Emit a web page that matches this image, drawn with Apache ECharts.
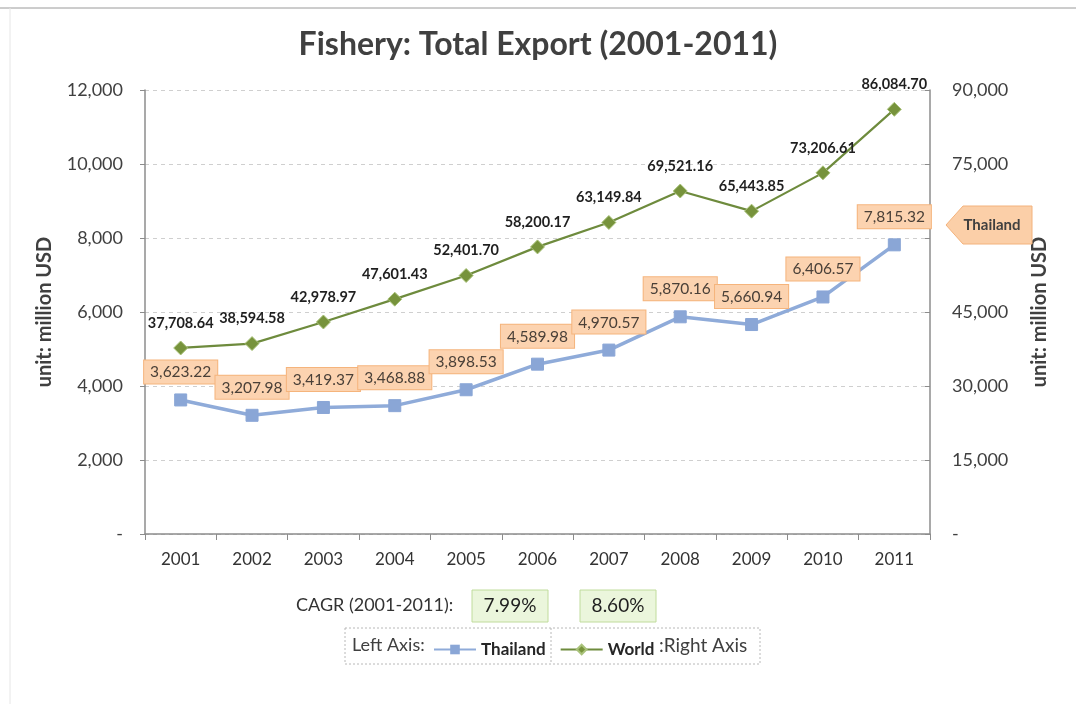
<!DOCTYPE html>
<html><head><meta charset="utf-8">
<script src="https://cdn.jsdelivr.net/npm/echarts@6/dist/echarts.min.js"></script>
<style>html,body{margin:0;padding:0;background:#fff}#c{width:1076px;height:704px}</style>
</head><body><div id="c"></div>
<script>
const years = ['2001','2002','2003','2004','2005','2006','2007','2008','2009','2010','2011'];
const thailand = [3623.22, 3207.98, 3419.37, 3468.88, 3898.53, 4589.98, 4970.57, 5870.16, 5660.94, 6406.57, 7815.32];
const world = [37708.64, 38594.58, 42978.97, 47601.43, 52401.70, 58200.17, 63149.84, 69521.16, 65443.85, 73206.61, 86084.70];
const cagr = ['7.99%', '8.60%'];

const FONT = 'Lato, "Noto Sans", sans-serif';
const fmt = v => v === 0 ? '-' : v.toLocaleString('en-US');
const fmt2 = v => v.toLocaleString('en-US', {minimumFractionDigits: 2, maximumFractionDigits: 2});

const chart = echarts.init(document.getElementById('c'));
chart.setOption({
  animation: false,
  textStyle: {fontFamily: FONT},
  title: {
    text: 'Fishery: Total Export (2001-2011)', left: 'center', top: 24,
    textStyle: {fontFamily: FONT, fontSize: 32, fontWeight: 'bold', color: '#404040'}
  },
  grid: {left: 145, right: 146, top: 90, bottom: 170},
  xAxis: {
    type: 'category', data: years, boundaryGap: true,
    axisLine: {lineStyle: {color: '#8c8c8c', width: 1.5}},
    axisTick: {show: true, length: 6, lineStyle: {color: '#8c8c8c'}},
    axisLabel: {color: '#333', fontSize: 17, margin: 17, fontFamily: FONT}
  },
  yAxis: [{
    type: 'value', min: 0, max: 12000, interval: 2000,
    name: 'unit: million USD', nameLocation: 'middle', nameRotate: 90, nameGap: 90,
    nameTextStyle: {fontSize: 20, fontWeight: 'bold', color: '#404040', fontFamily: FONT},
    axisLine: {show: true, lineStyle: {color: '#8c8c8c', width: 1.5}},
    axisTick: {show: true, length: 5, lineStyle: {color: '#8c8c8c'}},
    axisLabel: {formatter: fmt, color: '#404040', fontSize: 18, margin: 22, fontFamily: FONT},
    splitLine: {lineStyle: {color: '#cfcfcf', type: [4, 4]}}
  }, {
    type: 'value', min: 0, max: 90000, interval: 15000, position: 'right',
    name: 'unit: million USD', nameLocation: 'middle', nameRotate: 90, nameGap: 100,
    nameTextStyle: {fontSize: 20, fontWeight: 'bold', color: '#404040', fontFamily: FONT},
    axisLine: {show: true, lineStyle: {color: '#8c8c8c', width: 1.5}},
    axisTick: {show: true, inside: true, length: 5, lineStyle: {color: '#8c8c8c'}},
    axisLabel: {formatter: v => v === 60000 ? '' : fmt(v), color: '#404040', fontSize: 18, margin: 22, fontFamily: FONT},
    splitLine: {show: false}
  }],
  legend: {
    data: ['Thailand', 'World'], left: 428, top: 636, itemWidth: 42, itemHeight: 12, itemGap: 14,
    textStyle: {fontSize: 17, fontWeight: 'bold', color: '#262626', fontFamily: FONT}
  },
  series: [{
    name: 'Thailand', type: 'line', yAxisIndex: 0, data: thailand, z: 3,
    lineStyle: {color: '#8fabd9', width: 3.5},
    itemStyle: {color: '#8aa6d6', borderColor: '#8aa6d6'},
    symbol: 'rect', symbolSize: 12, showAllSymbol: true,
    label: {
      show: true, position: 'top', distance: 10, formatter: p => fmt2(p.value),
      fontSize: 15.5, color: '#4a4038', fontFamily: FONT,
      backgroundColor: '#fcd3b0', borderColor: '#f5b47c', borderWidth: 1, padding: [4, 6, 3, 6]
    }
  }, {
    name: 'World', type: 'line', yAxisIndex: 1, data: world, z: 4,
    lineStyle: {color: '#6e8b3d', width: 2.2},
    itemStyle: {color: '#77933c', borderColor: '#a9c27a', borderWidth: 1},
    symbol: 'diamond', symbolSize: 14, showAllSymbol: true,
    label: {
      show: true, position: 'top', distance: 10, formatter: p => fmt2(p.value),
      fontSize: 14.5, fontWeight: 'bold', color: '#1f1f1f', fontFamily: FONT
    }
  }],
  graphic: [
    {type: 'line', shape: {x1: 0, y1: 8, x2: 1076, y2: 8}, style: {stroke: '#9a9a9a', lineWidth: 1}},
    {type: 'line', shape: {x1: 10, y1: 8, x2: 10, y2: 704}, style: {stroke: '#e6e6e6', lineWidth: 1}},
    {type: 'polygon', z: 100, shape: {points: [[946, 225], [963, 206], [1032, 206], [1032, 244], [963, 244]]},
     style: {fill: '#fbcfa8', stroke: '#f3b27c', lineWidth: 1}},
    {type: 'text', z: 101, x: 992, y: 225, style: {text: 'Thailand', font: 'bold 15px ' + FONT, fill: '#404040', align: 'center', verticalAlign: 'middle'}},
    {type: 'text', z: 101, left: 296, top: 596, style: {text: 'CAGR (2001-2011):', font: '18px ' + FONT, fill: '#333'}},
    {type: 'rect', z: 100, shape: {x: 472, y: 590, width: 76, height: 32}, style: {fill: '#ebf6dc', stroke: '#c0dc9c', lineWidth: 1}},
    {type: 'text', z: 101, x: 510, y: 606, style: {text: cagr[0], font: '19px ' + FONT, fill: '#1f1f1f', align: 'center', verticalAlign: 'middle'}},
    {type: 'rect', z: 100, shape: {x: 580, y: 590, width: 76, height: 32}, style: {fill: '#ebf6dc', stroke: '#c0dc9c', lineWidth: 1}},
    {type: 'text', z: 101, x: 618, y: 606, style: {text: cagr[1], font: '19px ' + FONT, fill: '#1f1f1f', align: 'center', verticalAlign: 'middle'}},
    {type: 'rect', z: 90, shape: {x: 345, y: 628, width: 415, height: 36}, style: {fill: 'none', stroke: '#b8b8b8', lineWidth: 1, lineDash: [2, 2]}},
    {type: 'line', z: 90, shape: {x1: 551, y1: 628, x2: 551, y2: 664}, style: {stroke: '#b8b8b8', lineWidth: 1, lineDash: [2, 2]}},
    {type: 'text', z: 101, x: 352, y: 645, style: {text: 'Left Axis:', font: '18px ' + FONT, fill: '#404040', verticalAlign: 'middle'}},
    {type: 'text', z: 101, x: 659, y: 646, style: {text: ':Right Axis', font: '19px ' + FONT, fill: '#404040', verticalAlign: 'middle'}}
  ]
});
</script></body></html>
